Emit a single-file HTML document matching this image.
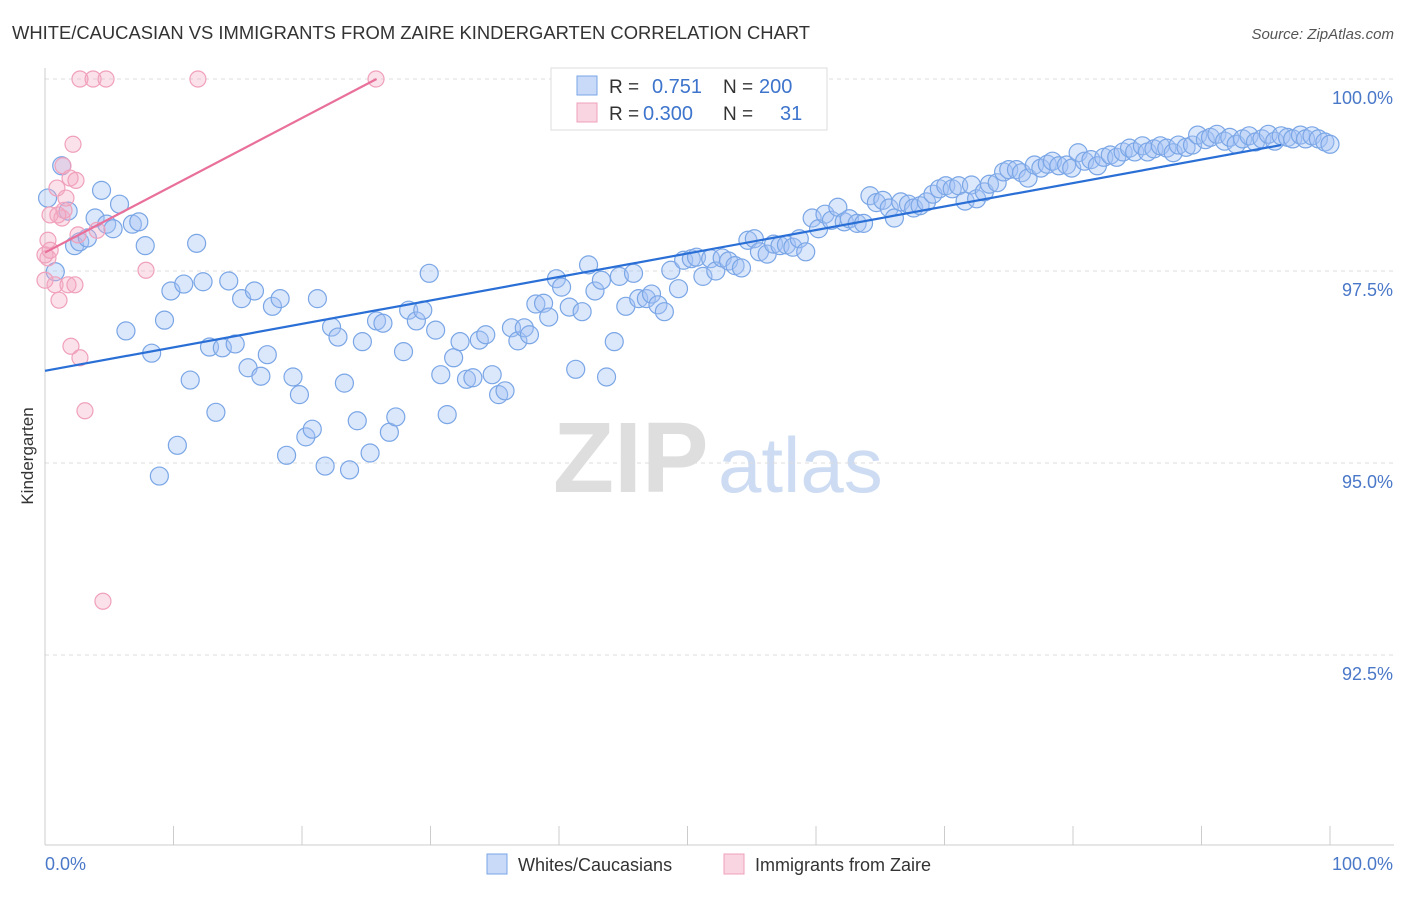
<!DOCTYPE html>
<html><head><meta charset="utf-8"><style>
body{margin:0;background:#fff;font-family:"Liberation Sans",sans-serif;}
svg text{font-family:"Liberation Sans",sans-serif;}
</style></head><body>
<svg id="chart" width="1406" height="892" xmlns="http://www.w3.org/2000/svg">
<text x="12" y="39" font-size="18.4" fill="#333">WHITE/CAUCASIAN VS IMMIGRANTS FROM ZAIRE KINDERGARTEN CORRELATION CHART</text>
<text x="1394" y="39" font-size="15" fill="#555" text-anchor="end" font-style="italic">Source: ZipAtlas.com</text>
<g>
<text x="553" y="492" font-size="100" fill="#dedede" font-family="Liberation Serif" font-weight="bold">ZIP</text>
<text x="718" y="492" font-size="78" fill="#cddcf2">atlas</text>
</g>
<g id="grid"></g>
<g id="axes"></g>
<g id="pts"></g>
<g id="trends"></g>
<text transform="translate(33,456) rotate(-90)" font-size="17" fill="#333" text-anchor="middle">Kindergarten</text>
<g>
<rect x="551" y="68" width="276" height="62" fill="#fff" stroke="#ddd"/>
<rect x="577" y="76" width="20" height="19" fill="rgba(164,194,244,0.6)" stroke="#7aa6e6"/>
<rect x="577" y="103" width="20" height="19" fill="rgba(244,170,195,0.5)" stroke="#f0a0bb"/>
<text x="609" y="93" font-size="19" fill="#333">R = </text><text x="652" y="93" font-size="20" fill="#3d74cc">0.751</text>
<text x="723" y="93" font-size="19" fill="#333">N = </text><text x="759" y="93" font-size="20" fill="#3d74cc">200</text>
<text x="609" y="120" font-size="19" fill="#333">R = </text><text x="643" y="120" font-size="20" fill="#3d74cc">0.300</text>
<text x="723" y="120" font-size="19" fill="#333">N = </text><text x="780" y="120" font-size="20" fill="#3d74cc">31</text>
</g>
<g>
<rect x="487" y="854" width="20" height="20" fill="rgba(164,194,244,0.6)" stroke="#7aa6e6"/>
<text x="518" y="871" font-size="18" fill="#333">Whites/Caucasians</text>
<rect x="724" y="854" width="20" height="20" fill="rgba(244,170,195,0.5)" stroke="#f0a0bb"/>
<text x="755" y="871" font-size="18" fill="#333">Immigrants from Zaire</text>
</g>
</svg>
<script>
const yTicks=[100,97.5,95,92.5];
const yTickLabels=["100.0%","97.5%","95.0%","92.5%"];
const xTicks=[0,10,20,30,40,50,60,70,80,90,100];
const blueX=[0.2,0.8,1.3,1.8,2.3,2.7,3.3,3.9,4.4,4.8,5.3,5.8,6.3,6.8,7.3,7.8,8.3,8.9,9.3,9.8,10.3,10.8,11.3,11.8,12.3,12.8,13.3,13.8,14.3,14.8,15.3,15.8,16.3,16.8,17.3,17.7,18.3,18.8,19.3,19.8,20.3,20.8,21.2,21.8,22.3,22.8,23.3,23.7,24.3,24.7,25.3,25.8,26.3,26.8,27.3,27.9,28.3,28.9,29.4,29.9,30.4,30.8,31.3,31.8,32.3,32.8,33.3,33.8,34.3,34.8,35.3,35.8,36.3,36.8,37.3,37.7,38.2,38.8,39.2,39.8,40.2,40.8,41.3,41.8,42.3,42.8,43.3,43.7,44.3,44.7,45.2,45.8,46.2,46.8,47.2,47.7,48.2,48.7,49.3,49.7,50.3,50.7,51.2,51.8,52.2,52.7,53.2,53.7,54.2,54.7,55.2,55.6,56.2,56.7,57.2,57.7,58.2,58.7,59.2,59.7,60.2,60.7,61.2,61.7,62.2,62.6,63.2,63.7,64.2,64.7,65.2,65.7,66.1,66.6,67.2,67.6,68.1,68.6,69.1,69.6,70.1,70.6,71.1,71.6,72.1,72.5,73.1,73.5,74.1,74.6,75.0,75.6,76.0,76.5,77.0,77.5,78.0,78.4,78.9,79.5,79.9,80.4,80.9,81.4,81.9,82.4,82.9,83.4,83.9,84.4,84.8,85.4,85.8,86.3,86.8,87.3,87.8,88.2,88.8,89.3,89.7,90.3,90.7,91.2,91.8,92.2,92.7,93.2,93.7,94.2,94.7,95.2,95.7,96.2,96.7,97.1,97.7,98.1,98.6,99.1,99.6,100];
const blueY=[98.45,97.49,98.87,98.28,97.83,97.88,97.93,98.19,98.55,98.11,98.05,98.37,96.72,98.11,98.14,97.83,96.43,94.83,96.86,97.24,95.23,97.33,96.08,97.86,97.36,96.51,95.66,96.50,97.37,96.55,97.14,96.24,97.24,96.13,96.41,97.04,97.14,95.10,96.12,95.89,95.34,95.44,97.14,94.96,96.77,96.64,96.04,94.91,95.55,96.58,95.13,96.85,96.82,95.40,95.60,96.45,96.99,96.85,96.99,97.47,96.73,96.15,95.63,96.37,96.58,96.09,96.11,96.60,96.67,96.15,95.89,95.94,96.76,96.59,96.76,96.67,97.07,97.08,96.90,97.40,97.29,97.03,96.22,96.97,97.58,97.24,97.38,96.12,96.58,97.43,97.04,97.47,97.14,97.14,97.20,97.06,96.97,97.51,97.27,97.64,97.66,97.68,97.43,97.66,97.50,97.67,97.63,97.57,97.54,97.90,97.92,97.75,97.72,97.85,97.83,97.84,97.81,97.92,97.75,98.19,98.05,98.24,98.16,98.33,98.14,98.18,98.12,98.12,98.48,98.39,98.42,98.32,98.19,98.40,98.37,98.32,98.35,98.40,98.50,98.57,98.61,98.57,98.61,98.41,98.62,98.44,98.53,98.63,98.65,98.79,98.82,98.82,98.78,98.71,98.88,98.84,98.89,98.93,98.87,98.88,98.84,99.04,98.93,98.95,98.87,98.98,99.01,98.98,99.05,99.10,99.05,99.13,99.05,99.09,99.13,99.10,99.04,99.14,99.11,99.14,99.27,99.21,99.24,99.28,99.19,99.24,99.15,99.22,99.26,99.18,99.22,99.28,99.19,99.26,99.24,99.22,99.27,99.22,99.26,99.22,99.18,99.15];
const pinkX=[0.23,0.23,0.39,0.78,0.93,1.09,1.32,1.4,1.48,1.63,1.79,1.95,2.02,2.18,2.33,2.41,2.57,2.72,2.72,3.11,3.74,4.05,4.51,4.75,7.86,11.9,25.76,0,0,0.4,1.0];
const pinkY=[97.90,97.67,98.23,97.32,98.58,97.12,98.19,98.87,98.29,98.45,97.32,98.71,96.52,99.15,97.32,98.68,97.97,96.37,100,95.68,100,98.03,93.2,100,97.51,100,100,97.71,97.38,97.77,98.23];
const blueTrend=[[0,96.2],[96.2,99.14]];
const pinkTrend=[[0,97.74],[25.8,100]];
const NS="http://www.w3.org/2000/svg";
const X=v=>45+v*12.85;
const Y=v=>79+(100-v)*76.8;
function mk(parent,tag,attrs){const e=document.createElementNS(NS,tag);for(const k in attrs)e.setAttribute(k,attrs[k]);parent.appendChild(e);return e;}
const grid=document.getElementById('grid'),axes=document.getElementById('axes'),pts=document.getElementById('pts'),tr=document.getElementById('trends');
yTicks.forEach((t,i)=>{
 const l=mk(grid,'line',{x1:45,x2:1394,y1:Y(t),y2:Y(t),stroke:'#ddd','stroke-dasharray':'4,4'});
 
 
 const tx=mk(axes,'text',{x:1393,y:Y(t)+25,'font-size':18,fill:'#4a78c8','text-anchor':'end'});
 tx.textContent=yTickLabels[i];
 
 
});
const xa=mk(axes,'line',{x1:45,x2:1394,y1:845,y2:845,stroke:'#ccc'});


const ya=mk(axes,'line',{x1:45,x2:45,y1:68,y2:845,stroke:'#ccc'});


xTicks.forEach(t=>{
 const l=mk(axes,'line',{x1:X(t),x2:X(t),y1:826,y2:845,stroke:'#ccc'});
 
 
});
[[0,'0.0%','start',45],[100,'100.0%','end',1393]].forEach(d=>{
 const t=mk(axes,'text',{x:d[3],y:870,'font-size':18,fill:'#4a78c8','text-anchor':d[2]});
 t.textContent=d[1];
 
 
});
blueX.forEach((v,i)=>{
 const c=mk(pts,'circle',{cx:X(v),cy:Y(blueY[i]),r:9,fill:'rgba(164,194,244,0.4)',stroke:'#7aa6e6','stroke-width':1.2});
 
 
});
pinkX.forEach((v,i)=>{
 const c=mk(pts,'circle',{cx:X(v),cy:Y(pinkY[i]),r:8,fill:'rgba(244,170,195,0.35)',stroke:'#f0a0bb','stroke-width':1.2});
 
 
});
const bl=mk(tr,'line',{x1:X(blueTrend[0][0]),y1:Y(blueTrend[0][1]),x2:X(blueTrend[1][0]),y2:Y(blueTrend[1][1]),stroke:'#2a6fd6','stroke-width':2.2});


const pl=mk(tr,'line',{x1:X(pinkTrend[0][0]),y1:Y(pinkTrend[0][1]),x2:X(pinkTrend[1][0]),y2:Y(pinkTrend[1][1]),stroke:'#e8709a','stroke-width':2.2});


</script>
</body></html>
